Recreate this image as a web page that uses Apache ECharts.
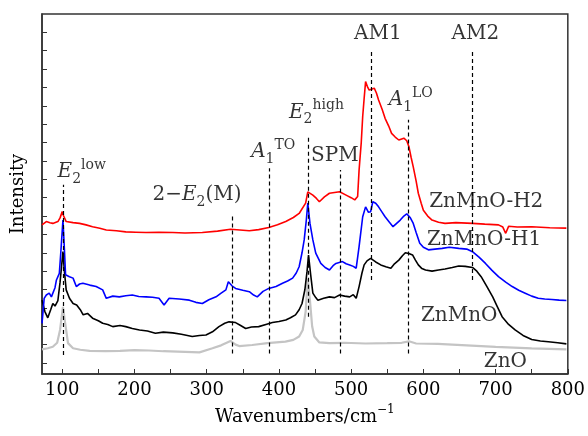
<!DOCTYPE html>
<html>
<head>
<meta charset="utf-8">
<title>Raman</title>
<script src="https://cdn.jsdelivr.net/npm/echarts@6/dist/echarts.min.js"></script>
<style>
  html, body { margin: 0; padding: 0; background: #fff; }
  #main { width: 588px; height: 436px; }
</style>
</head>
<body>
<div id="main"></div>
<script>
// 数据：[波数, 强度(任意单位)]
var zno = [[72,6.7],[80,7.0],[87,7.4],[93,8.5],[97,12],[101,18.3],[104,14],[108,8.4],[115,7.0],[125,6.6],[138,6.3],
  [160,6.2],[180,6.3],[200,6.5],[220,6.4],[240,6.2],[260,6.1],[290,5.9],[308,7.0],[320,7.8],[333,9.0],[340,8.0],
  [345,7.6],[363,7.9],[384,8.4],[409,8.8],[420,9.3],[428,10.2],[433,12],[437,17],[440,26],[443,20],[446,13],
  [449,10.2],[456,8.6],[470,8.4],[490,8.5],[520,8.3],[550,8.4],[570,8.5],[580,8.9],[590,8.3],[620,8.2],
  [660,7.8],[700,7.4],[750,7.0],[798,6.7]];

var znmno = [[72,20.1],[76,17],[80,15.3],[84,17.5],[87,19.2],[90,18.5],[94,20],[97,25],[101,33.3],[103,28],
  [105.5,22.9],[110,20.6],[115,19.2],[120,18.8],[125,17.5],[129,16.1],[135,16.5],[142,15.2],[150,14.5],[156,13.8],
  [163,13.5],[170,12.9],[180,13.2],[188,12.9],[197,12.4],[207,12.0],[218,11.7],[229,11.1],[240,11.4],[253,11.2],
  [265,10.8],[280,10.2],[290,10.5],[299,10.6],[308,11.5],[317,12.9],[325,13.8],[331,14.2],[340,14.0],[347,13.2],
  [354,12.4],[362,12.8],[372,12.9],[382,13.5],[391,14.0],[400,14.3],[409.5,14.7],[416,15.3],[423,16.1],[428,17.5],
  [432,19.2],[436,23],[439,28],[441,32.4],[444,27],[447,22.0],[451,20.8],[454,20.1],[462,20.6],[470,21.0],
  [477,20.8],[484,21.5],[491,21.2],[498,21.0],[503,21.6],[507,20.6],[511,23.8],[515,27.5],[518,29.7],[522,30.8],
  [527,31.5],[534,30.5],[541,29.7],[548,29.2],[555,28.8],[560,30],[566,31.0],[571,32.2],[575,33.0],[580,32.8],
  [585,32.4],[589,31],[593,29.7],[598,28.7],[603,28.3],[612,28.0],[621,28.3],[630,28.6],[640,29.0],[649,29.4],
  [658,29.3],[668,29.0],[674,28],[680,26.5],[688,23.8],[696,21.0],[702,18.5],[709,15.6],[718,13.5],[727,12.0],
  [738,10.5],[750,9.4],[762,9.0],[773,8.8],[786,8.5],[798,8.2]];

var znmnoH1 = [[72,13.8],[75,20.6],[78,21.5],[82,22.0],[85,21.0],[87,20.6],[90,23.5],[92,25.6],[96,27.4],[98,33],
  [101,41.9],[103,34],[104.6,27.0],[110,26.5],[115,26.1],[119.5,23.8],[124,24.5],[128.6,24.7],[138,24.2],[147,23.8],
  [156,22.9],[161,20.6],[170,21.2],[179,21.0],[188,21.3],[197,21.5],[206,21.1],[216,21.0],[225,20.9],[234,20.6],
  [241,18.8],[248,20.6],[262,20.4],[276,20.1],[285,19.5],[294,19.2],[303,20.2],[313,21.0],[320,22.0],[326.6,22.9],
  [330,25.1],[335,24],[340,23.3],[350,22.8],[359,22.4],[365,21.5],[370,21.0],[378,22.5],[386,23.3],[396,23.8],
  [405,24.7],[412,25.3],[419,26.1],[424,27.5],[428,29.2],[432,33],[435,36.5],[438,42],[440,46.5],[443,41],
  [447,36.5],[451,32.9],[458,30.1],[464,29],[470,28.3],[475,29.5],[479,30.1],[488,30.6],[493,30.0],[498,29.7],
  [503,29.3],[507,28.8],[511,34.7],[516,42.8],[520,45.5],[524,44.0],[527,44.2],[530,46.9],[534,46.5],[538,45.5],
  [543,44.0],[547,42.8],[553,41.3],[558,40.1],[563,41.0],[568,41.9],[573,43],[577,43.6],[582,42.5],[586,41.0],
  [590,38.5],[595,35.6],[600,34.5],[607,33.8],[616,34.0],[626,34.2],[636,34.5],[649,34.2],[660,34.0],[668,33.3],
  [677,31.8],[686,30.1],[695,28.2],[704,26.5],[714,25.0],[723,23.8],[732,22.8],[741,22.0],[750,21.2],[759,20.6],
  [768,20.4],[778,20.3],[788,20.1],[798,20.0]];

var znmnoH2 = [[72,40.6],[78,41.5],[83,41.2],[87,41.0],[94,41.5],[97,42.5],[100,44.2],[102,43],[105.5,41.5],
  [115,41.2],[124,41.0],[133,40.6],[142,40.1],[152,39.7],[161,39.2],[175,39.0],[188,38.7],[202,38.6],[216,38.5],
  [234,38.6],[253,38.5],[270,38.4],[294,38.5],[315,38.9],[333,39.4],[346,39.2],[359,39.0],[372,39.3],[386,39.9],
  [398,40.6],[409.5,41.5],[420,42.6],[428,43.7],[437,46.5],[440,49.6],[447,48.7],[452,47.8],[456,46.9],[463,48.2],
  [470,49.2],[477,49.4],[484,49.6],[493,48.7],[500,48.0],[505,47.4],[509,48.3],[511,55.5],[514,63],[516,70.1],
  [518,75],[520,79.6],[523,78],[525,77.3],[529,77.6],[532,77.8],[535,76.5],[538,74.6],[543,72],[547,69.6],
  [552,67.5],[556,65.5],[561,64.5],[566,63.7],[573,64.2],[577,63.5],[580,61.9],[583,59],[586,56.4],[590,52.5],
  [593,49.2],[597,46.5],[600,44.6],[606,43],[612,41.9],[621,41.3],[630,41.0],[645,41.2],[668,41.0],[685,40.8],
  [704,40.6],[710,40.0],[714,38.3],[718,40.2],[730,40.0],[750,40.1],[775,39.8],[798,39.7]];

// 虚线：波数, 下端, 上端
var modeX   = [102, 335, 386.5, 440.8, 485, 528, 578.5, 667];
var modeLow = [5.2, 5.6, 5.6, 15.6, 5.6, 25.6, 5.6, 25.6];
var modeTop = [51.5, 43.7, 56.0, 64.4, 55.5, 87.8, 69.2, 87.8];

// 标注文字及其位置（左端）
var noteText = ['{it|E}{sub|2}{sup|low}', '{n|2−}{it|E}{sub|2}{n|(M)}', '{it|A}{sub|1}{sup|TO}',
  '{it|E}{sub|2}{sup|high}', '{n|SPM}', '{n|AM1}', '{it|A}{sub|1}{sup|LO}', '{n|AM2}',
  '{n|ZnMnO-H2}', '{n|ZnMnO-H1}', '{n|ZnMnO}', '{n|ZnO}'];
var noteX = [93.5, 225, 361.6, 414, 444.5, 504, 552, 639, 608, 605, 596.6, 683.6];
var noteY = [55.0, 48.7, 60.4, 71.1, 59.4, 92.6, 74.6, 92.6, 46.8, 36.5, 15.8, 3.3];

var xTicks = [], xLabels = [];
for (var t = 100; t <= 800; t += 50) {
  xTicks.push(t);
  if (t % 100 === 0) xLabels.push(t);
}
var yTicks = [];
for (var v = 3; v <= 93; v += 5) yTicks.push(v);

var font = 'DejaVu Serif';
var ink = '#000';
var richStyle = {
  n:   { fontFamily: font, fontSize: 20, color: ink, lineHeight: 26, verticalAlign: 'middle' },
  it:  { fontFamily: font, fontSize: 20, color: ink, fontStyle: 'italic', lineHeight: 26, verticalAlign: 'middle' },
  sub: { fontFamily: font, fontSize: 14, color: ink, lineHeight: 28, verticalAlign: 'bottom' },
  sup: { fontFamily: font, fontSize: 14, color: ink, lineHeight: 26, verticalAlign: 'top' }
};

var lines = [];
for (var i = 0; i < modeX.length; i++) {
  lines.push([{ coord: [modeX[i], modeLow[i]] }, { coord: [modeX[i], modeTop[i]] }]);
}
var notes = [];
for (var k = 0; k < noteText.length; k++) {
  notes.push({ value: [noteX[k], noteY[k]], label: { formatter: noteText[k] } });
}

var myChart = echarts.init(document.getElementById('main'));
var option = {
  animation: false,
  grid: { left: 42, right: 19, top: 14, bottom: 62, show: true, borderColor: '#333', borderWidth: 1.5 },
  xAxis: {
    type: 'value', min: 72, max: 800,
    name: '{n|Wavenumbers/cm}{sup|−1}', nameLocation: 'middle', nameGap: 24,
    nameTextStyle: { rich: {
      n: { fontFamily: font, fontSize: 18, color: ink, lineHeight: 22, verticalAlign: 'bottom' },
      sup: { fontFamily: font, fontSize: 12, color: ink, lineHeight: 22, verticalAlign: 'top' }
    } },
    axisLine: { lineStyle: { color: '#333', width: 1.5 } },
    axisTick: { inside: true, length: 5, customValues: xTicks, lineStyle: { color: '#333' } },
    axisLabel: { customValues: xLabels, fontFamily: font, fontSize: 18, color: ink, margin: 7 },
    splitLine: { show: false }
  },
  yAxis: {
    type: 'value', min: 0, max: 98,
    name: 'Intensity', nameLocation: 'middle', nameGap: 15,
    nameTextStyle: { fontFamily: font, fontSize: 18, color: ink },
    axisLine: { lineStyle: { color: '#333', width: 1.5 } },
    axisTick: { inside: true, length: 5, customValues: yTicks, lineStyle: { color: '#333' } },
    axisLabel: { show: false },
    splitLine: { show: false }
  },
  series: [
    { name: 'ZnO', type: 'line', data: zno, showSymbol: false, lineStyle: { color: '#c4c4c4', width: 2.2 } },
    { name: 'ZnMnO', type: 'line', data: znmno, showSymbol: false, lineStyle: { color: '#000', width: 1.6 } },
    { name: 'ZnMnO-H1', type: 'line', data: znmnoH1, showSymbol: false, lineStyle: { color: '#0000ff', width: 1.6 } },
    { name: 'ZnMnO-H2', type: 'line', data: znmnoH2, showSymbol: false, lineStyle: { color: '#ff0000', width: 1.6 } },
    {
      name: 'modes', type: 'line', data: [], z: 5,
      markLine: { silent: true, symbol: 'none', label: { show: false },
        lineStyle: { color: '#000', type: [4, 3], width: 1.2 }, data: lines }
    },
    {
      name: 'notes', type: 'scatter', symbolSize: 0, data: notes, z: 6,
      label: { show: true, position: 'right', distance: 0, rich: richStyle }
    }
  ]
};
myChart.setOption(option);
</script>
</body>
</html>
